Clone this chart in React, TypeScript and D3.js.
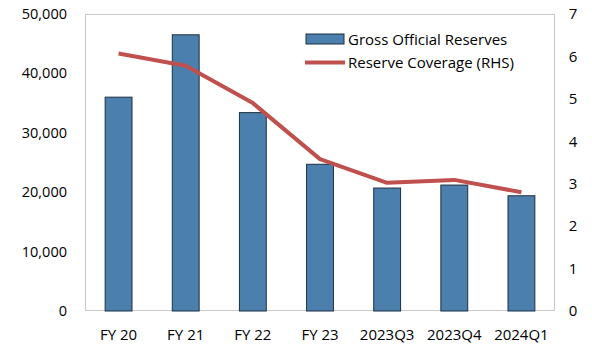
import React from "react";
import * as d3 from "d3";

const categories = ["FY 20", "FY 21", "FY 22", "FY 23", "2023Q3", "2023Q4", "2024Q1"];
const reserves = [36000, 46500, 33400, 24700, 20700, 21200, 19400];
const coverage = [6.07, 5.78, 4.9, 3.58, 3.02, 3.09, 2.8];
const leftTicks = [0, 10000, 20000, 30000, 40000, 50000];
const rightTicks = [0, 1, 2, 3, 4, 5, 6, 7];

const W = 592, H = 348;
const m = { left: 85, right: 37, top: 14, bottom: 37 };
const FONT = "'Open Sans', 'Noto Sans', sans-serif";

export default function App() {
  const x = d3.scaleBand<string>().domain(categories).range([m.left, W - m.right]).paddingInner(0.6).paddingOuter(0.3);
  const yL = d3.scaleLinear().domain([0, 50000]).range([H - m.bottom, m.top]);
  const yR = d3.scaleLinear().domain([0, 7]).range([H - m.bottom, m.top]);
  const fmt = d3.format(",");
  const line = d3.line<number>().x((_, i) => x(categories[i])! + x.bandwidth() / 2).y((d) => yR(d));
  const bottom = H - m.bottom;
  const right = W - m.right;
  return (
    <svg width={W} height={H} style={{ position: "absolute", left: 0, top: 0, background: "#fff" }}>
      <rect x={m.left + 0.5} y={m.top + 0.5} width={right - m.left - 1} height={bottom - m.top - 1} fill="none" stroke="#C8C8C8" strokeWidth={1} />
      {reserves.map((v, i) => (
        <rect key={i} x={x(categories[i])} y={yL(v)} width={x.bandwidth()} height={bottom - yL(v)} fill="#4A7FAE" stroke="#1F2F3F" strokeWidth={1} />
      ))}
      <path d={line(coverage)!} fill="none" stroke="#C0504D" strokeWidth={4} strokeLinejoin="round" />
      {leftTicks.map((t) => (
        <text key={t} x={67} y={yL(t)} dy="0.35em" textAnchor="end" fontFamily={FONT} fontSize={14.5} fill="#000">{fmt(t)}</text>
      ))}
      {rightTicks.map((t) => (
        <text key={t} x={573} y={yR(t)} dy="0.35em" textAnchor="middle" fontFamily={FONT} fontSize={15} fill="#000">{t}</text>
      ))}
      {categories.map((c) => (
        <text key={c} x={x(c)! + x.bandwidth() / 2} y={335} dy="0.35em" textAnchor="middle" fontFamily={FONT} fontSize={15} fill="#000">{c}</text>
      ))}
      <rect x={306} y={34} width={38} height={10} fill="#4A7FAE" stroke="#1F2F3F" strokeWidth={1} />
      <text x={348} y={39.5} dy="0.35em" fontFamily={FONT} fontSize={15} fill="#000">Gross Official Reserves</text>
      <line x1={305} x2={345} y1={62.5} y2={62.5} stroke="#C0504D" strokeWidth={4} />
      <text x={348} y={63} dy="0.35em" fontFamily={FONT} fontSize={15} fill="#000">Reserve Coverage (RHS)</text>
    </svg>
  );
}
